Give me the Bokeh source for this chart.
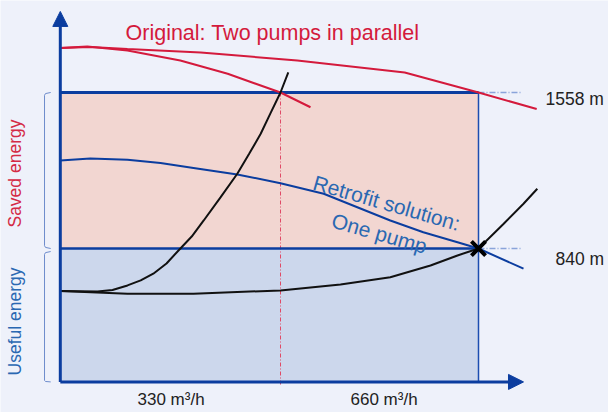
import math
from bokeh.plotting import figure
from bokeh.models import Range1d, Arrow, NormalHead, Label
from bokeh.embed import file_html
from bokeh.resources import INLINE

# ---- data (flow Q in m3/h, head H in m; schematic) ----
q_op1, h_op1 = 330, 1558      # original operating point
q_op2, h_op2 = 660, 840       # retrofit operating point
q_axis0, h_axis0 = -37, 226   # axis origin of the schematic
q_axis_end, h_axis_end = 735, 1931

# original pumps: parallel curve
par_q = [-37, 13, 75, 197, 358, 537, 660, 757]
par_h = [1763, 1767, 1758, 1742, 1705, 1650, 1558, 1482]
# original pumps: single-pump branch
one_q = [-37, 8, 75, 163, 242, 330, 380]
one_h = [1763, 1770, 1751, 1705, 1644, 1558, 1490]
# retrofit pump curve
ret_q = [-37, 13, 75, 130, 185, 258, 330, 402, 458, 513, 568, 625, 660, 735]
ret_h = [1245, 1254, 1248, 1233, 1211, 1181, 1140, 1092, 1030, 969, 915, 869, 840, 747]
# system curve, original
sys1_q = [-37, 25, 50, 75, 97, 118, 140, 160, 182, 202, 230, 258, 278, 297, 313, 330, 343]
sys1_h = [644, 642, 649, 670, 693, 724, 771, 831, 895, 969, 1075, 1184, 1277, 1368, 1461, 1558, 1651]
# system curve, retrofit
sys2_q = [-37, 75, 185, 330, 430, 513, 580, 625, 660, 702, 735, 758]
sys2_h = [644, 632, 632, 647, 674, 708, 762, 808, 840, 954, 1046, 1115]

head_labels = ["1558 m", "840 m"]
flow_labels = ["330 m\u00b3/h", "660 m\u00b3/h"]

BG = "#eef1fa"
DARK = "#0b3d9f"
RED = "#d41a3c"
BLUE_T = "#2a68b2"
FONT = "Liberation Sans"

p = figure(width=608, height=412, output_backend="svg", toolbar_location=None,
           x_range=Range1d(-136.67, 876.67), y_range=Range1d(85.2, 1981.4),
           x_axis_location=None, y_axis_location=None, min_border=0)
p.background_fill_color = BG
p.border_fill_color = BG
p.outline_line_color = None
p.grid.visible = False

# filled regions
p.quad(left=q_axis0, right=q_op2, bottom=h_op2, top=h_op1, fill_color="#f2d6d1", line_color=None)
p.quad(left=q_axis0, right=q_op2, bottom=h_axis0, top=h_op2, fill_color="#ccd7ec", line_color=None)

# reference lines
p.line([q_op1, q_op1], [214, h_op1], line_color="#e04a66", line_width=1, line_dash="4 2 1 2")
p.line([q_op2, 733], [h_op1, h_op1], line_color="#8aa4da", line_width=1.5, line_dash="6 2 1 2")
p.line([q_op2, 733], [h_op2, h_op2], line_color="#8aa4da", line_width=1.5, line_dash="6 2 1 2")
p.line([q_op2, q_op2], [h_axis0, h_op1], line_color="#1c4db0", line_width=1.5)
p.line([q_axis0, q_op2], [h_op1, h_op1], line_color=DARK, line_width=3)
p.line([q_axis0, q_op2], [h_op2, h_op2], line_color=DARK, line_width=2.5)

# curves
p.line(par_q, par_h, line_color=RED, line_width=2)
p.line(one_q, one_h, line_color=RED, line_width=2)
p.line(ret_q, ret_h, line_color=DARK, line_width=2)
p.line(sys1_q, sys1_h, line_color="#111111", line_width=2)
p.line(sys2_q, sys2_h, line_color="#111111", line_width=2)

# axes with arrows
p.add_layout(Arrow(end=NormalHead(size=15, fill_color=DARK, line_color=DARK),
                   x_start=q_axis0, y_start=h_axis0, x_end=q_axis0, y_end=h_axis_end,
                   line_color=DARK, line_width=3))
p.add_layout(Arrow(end=NormalHead(size=15, fill_color=DARK, line_color=DARK),
                   x_start=q_axis0, y_start=h_axis0, x_end=q_axis_end, y_end=h_axis0,
                   line_color=DARK, line_width=3))

# operating point marker
p.scatter([q_op2], [h_op2], marker="x", size=20, line_width=4, line_color="#000000")

# brackets on the left
bx = [-53, -61.7, -63.3, -63.3, -61.7, -53]
p.line(bx, [1558, 1553, 1545, 853, 845, 840], line_color="#6d8ccc", line_width=1)
p.line(bx, [826, 821, 813, 233, 228, 226], line_color="#6d8ccc", line_width=1)

# texts
p.add_layout(Label(x=71.7, y=1833, text="Original: Two pumps in parallel",
                   text_color=RED, text_font=FONT, text_font_size="21.5px",
                   text_baseline="alphabetic"))
p.add_layout(Label(x=771.7, y=1529, text=head_labels[0], text_color="#222222",
                   text_font=FONT, text_font_size="17.5px", text_baseline="alphabetic"))
p.add_layout(Label(x=788.3, y=793, text=head_labels[1], text_color="#222222",
                   text_font=FONT, text_font_size="17.5px", text_baseline="alphabetic"))
p.add_layout(Label(x=91.7, y=145, text=flow_labels[0], text_color="#222222",
                   text_font=FONT, text_font_size="17px", text_baseline="alphabetic"))
p.add_layout(Label(x=446.7, y=145, text=flow_labels[1], text_color="#222222",
                   text_font=FONT, text_font_size="17px", text_baseline="alphabetic"))
p.add_layout(Label(x=-112.5, y=1185, text="Saved energy", text_color="#d42a45",
                   text_font=FONT, text_font_size="17.5px", angle=math.pi / 2,
                   text_align="center", text_baseline="middle"))
p.add_layout(Label(x=-112.5, y=504, text="Useful energy", text_color=BLUE_T,
                   text_font=FONT, text_font_size="17.5px", angle=math.pi / 2,
                   text_align="center", text_baseline="middle"))
ang = -math.radians(16)
p.add_layout(Label(x=507, y=1050, text="Retrofit solution:", text_color=BLUE_T,
                   text_font=FONT, text_font_size="21px", angle=ang,
                   text_align="center", text_baseline="alphabetic"))
p.add_layout(Label(x=495, y=910, text="One pump", text_color=BLUE_T,
                   text_font=FONT, text_font_size="21px", angle=ang,
                   text_align="center", text_baseline="alphabetic"))

html = file_html(p, INLINE)
html = html.replace("<body>", '<body style="background-color:#eef1fa">', 1)
open("out.html", "w").write(html)
